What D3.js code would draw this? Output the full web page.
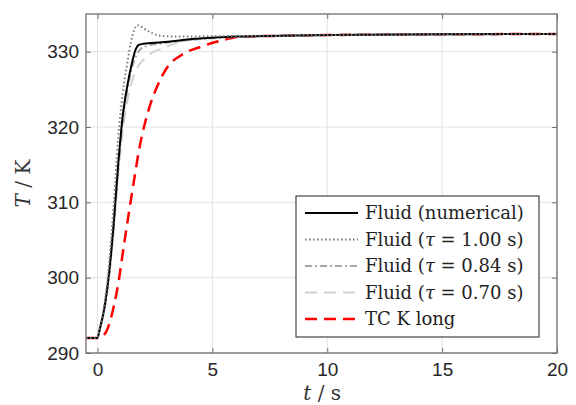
<!DOCTYPE html>
<html>
<head>
<meta charset="utf-8">
<script src="https://cdn.jsdelivr.net/npm/d3@7"></script>
<style>
  body { margin: 0; background: #fff; }
  svg { display: block; }
</style>
</head>
<body>
<svg id="chart"></svg>
<script>
// time grids and temperatures
const tNum = [-0.5, 0, 0.1, 0.3, 0.5, 0.7, 0.9, 1.1, 1.3, 1.5, 1.65, 1.8, 2.0, 2.8, 4.26, 6, 8, 10, 15, 20];
const TNum = [292, 292, 293.2, 296, 300.5, 307, 315, 321.5, 325.5, 328.5, 330.2, 330.9, 331.05, 331.25, 331.7, 332.0, 332.1, 332.2, 332.3, 332.35];

const tTau100 = [-0.5, 0, 0.1, 0.3, 0.5, 0.7, 0.9, 1.1, 1.3, 1.45, 1.6, 1.72, 1.85, 2.0, 2.23, 2.5, 2.8, 3.4, 5, 7, 10, 15, 20];
const TTau100 = [292, 292, 293.3, 296.5, 301.8, 309.5, 318.5, 324.5, 328.5, 331.2, 332.9, 333.5, 333.4, 333.1, 332.7, 332.3, 332.1, 332.0, 332.05, 332.1, 332.2, 332.3, 332.35];

const tTau084 = [-0.5, 0, 0.1, 0.3, 0.5, 0.7, 0.9, 1.1, 1.3, 1.5, 1.7, 1.9, 2.2, 2.8, 4.2, 6, 8, 10, 15, 20];
const TTau084 = [292, 292, 293.1, 295.8, 300.2, 306.5, 314.5, 321, 325, 327.8, 329.6, 330.4, 330.8, 331.1, 331.6, 331.95, 332.1, 332.2, 332.3, 332.35];

const tTau070 = [-0.5, 0, 0.1, 0.3, 0.5, 0.7, 0.9, 1.1, 1.3, 1.58, 1.8, 2.09, 2.4, 2.8, 3.6, 4.5, 6, 8, 10, 15, 20];
const TTau070 = [292, 292, 293, 295.6, 300, 306, 313.5, 319.5, 323.5, 326.8, 328.2, 329.2, 329.9, 330.4, 331.3, 331.7, 332.0, 332.1, 332.2, 332.3, 332.35];

const tTC = [-0.5, 0, 0.2, 0.42, 0.71, 0.93, 1.14, 1.36, 1.58, 1.8, 2.09, 2.3, 2.6, 3.03, 3.68, 4.55, 5.42, 6.3, 8, 10, 15, 20];
const TTC = [292, 292, 292.2, 293.1, 296.2, 299.7, 304.1, 308.5, 312.7, 316.8, 320.8, 323.0, 325.4, 327.9, 329.6, 330.7, 331.5, 332, 332.1, 332.2, 332.3, 332.35];

const xTicks = [0, 5, 10, 15, 20];
const yTicks = [290, 300, 310, 320, 330];

const tauValues = ['1.00', '0.84', '0.70'];

const W = 576, H = 405;
const margin = { top: 14, right: 19, bottom: 52, left: 86 };
const width = W - margin.left - margin.right;
const height = H - margin.top - margin.bottom;

const svgRoot = d3.select('#chart').attr('width', W).attr('height', H);
const svg = svgRoot.append('g').attr('transform', `translate(${margin.left},${margin.top})`);

const x = d3.scaleLinear().domain([-0.5, 20]).range([0, width]);
const y = d3.scaleLinear().domain([290, 335]).range([height, 0]);

// Grid
svg.append('g').selectAll('line').data(xTicks).enter().append('line')
    .attr('x1', d => x(d)).attr('x2', d => x(d)).attr('y1', 0).attr('y2', height)
    .attr('stroke', '#e3e3e3').attr('stroke-width', 1);
svg.append('g').selectAll('line').data(yTicks).enter().append('line')
    .attr('x1', 0).attr('x2', width).attr('y1', d => y(d)).attr('y2', d => y(d))
    .attr('stroke', '#e3e3e3').attr('stroke-width', 1);

// Curves
const styles = [
    { t: tNum, T: TNum, color: '#000000', w: 2, dash: null },
    { t: tTau100, T: TTau100, color: '#7a7a7a', w: 2, dash: '1.5,2.5' },
    { t: tTau084, T: TTau084, color: '#a6a6a6', w: 2, dash: '7,3,2,3' },
    { t: tTau070, T: TTau070, color: '#d0d0d0', w: 2, dash: '12,7' },
    { t: tTC, T: TTC, color: '#ff0000', w: 2.5, dash: '12,7' }
];

const line = d3.line().x(d => x(d[0])).y(d => y(d[1])).curve(d3.curveMonotoneX);
[4, 3, 2, 0, 1].forEach(i => {
    const s = styles[i];
    svg.append('path')
        .datum(s.t.map((t, k) => [t, s.T[k]]))
        .attr('d', line)
        .attr('fill', 'none')
        .attr('stroke', s.color)
        .attr('stroke-width', s.w)
        .attr('stroke-dasharray', s.dash);
});

// Frame and inward ticks
const frameColor = '#6e6e6e';
const sans = 'Liberation Sans, Arial, sans-serif';
svg.append('rect').attr('width', width).attr('height', height)
    .attr('fill', 'none').attr('stroke', frameColor).attr('stroke-width', 1.3);

svg.append('g').attr('transform', `translate(0,${height})`)
    .call(d3.axisBottom(x).tickValues(xTicks).tickSizeInner(-5).tickSizeOuter(0).tickPadding(10))
    .call(g => g.select('.domain').remove())
    .call(g => g.selectAll('line').attr('stroke', frameColor))
    .call(g => g.selectAll('text').attr('font-family', sans).attr('font-size', '19px').attr('fill', '#262626'));
svg.append('g')
    .call(d3.axisTop(x).tickValues(xTicks).tickSizeInner(-5).tickSizeOuter(0).tickFormat(''))
    .call(g => g.select('.domain').remove())
    .call(g => g.selectAll('line').attr('stroke', frameColor));

svg.append('g')
    .call(d3.axisLeft(y).tickValues(yTicks).tickSizeInner(-5).tickSizeOuter(0).tickPadding(7))
    .call(g => g.select('.domain').remove())
    .call(g => g.selectAll('line').attr('stroke', frameColor))
    .call(g => g.selectAll('text').attr('font-family', sans).attr('font-size', '19px').attr('fill', '#262626'));
svg.append('g').attr('transform', `translate(${width},0)`)
    .call(d3.axisRight(y).tickValues(yTicks).tickSizeInner(-5).tickSizeOuter(0).tickFormat(''))
    .call(g => g.select('.domain').remove())
    .call(g => g.selectAll('line').attr('stroke', frameColor));

// Axis labels
const serif = 'DejaVu Serif, serif';
const xl = svg.append('text').attr('x', x(10) - 5).attr('y', height + 47)
    .attr('text-anchor', 'middle').attr('font-family', serif).attr('font-size', '20px').attr('fill', '#333');
xl.append('tspan').attr('font-style', 'italic').text('t');
xl.append('tspan').text(' /  s');

const yl = svg.append('text').attr('transform', `translate(${-56},${y(312.5)}) rotate(-90)`)
    .attr('text-anchor', 'middle').attr('font-family', serif).attr('font-size', '20px').attr('fill', '#333');
yl.append('tspan').attr('font-style', 'italic').text('T');
yl.append('tspan').text(' /  K');

// Legend
const lg = svg.append('g').attr('transform', `translate(${296 - margin.left},${196 - margin.top})`);
lg.append('rect').attr('width', 243).attr('height', 141)
    .attr('fill', '#fff').attr('stroke', '#444').attr('stroke-width', 1.2);
styles.forEach((s, i) => {
    const cy = 17 + i * 26.5;
    lg.append('line').attr('x1', 9).attr('x2', 62).attr('y1', cy).attr('y2', cy)
        .attr('stroke', s.color).attr('stroke-width', s.w).attr('stroke-dasharray', s.dash);
    const txt = lg.append('text').attr('x', 69).attr('y', cy + 6)
        .attr('font-family', serif).attr('font-size', '18px').attr('fill', '#222');
    if (i === 0) txt.text('Fluid (numerical)');
    else if (i === 4) txt.text('TC K long');
    else {
        txt.append('tspan').text('Fluid (');
        txt.append('tspan').attr('font-style', 'italic').text('\u03c4');
        txt.append('tspan').text(` = ${tauValues[i - 1]} s)`);
    }
});
</script>
</body>
</html>
